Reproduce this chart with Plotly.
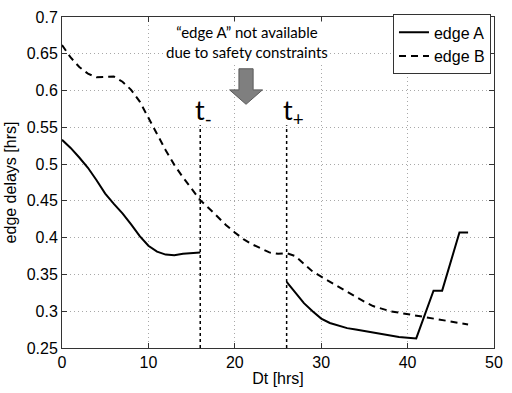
import plotly.graph_objects as go

# ---- data ----
dt = list(range(0, 48))

edge_b = [0.662, 0.645, 0.632, 0.623, 0.618, 0.619, 0.619, 0.612, 0.601, 0.585,
          0.562, 0.541, 0.519, 0.499, 0.482, 0.466, 0.451, 0.440, 0.428, 0.417,
          0.407, 0.398, 0.391, 0.385, 0.380, 0.378, 0.379, 0.375, 0.365, 0.354,
          0.347, 0.340, 0.333, 0.326, 0.319, 0.313, 0.307, 0.303, 0.300, 0.298,
          0.296, 0.294, 0.292, 0.290, 0.289, 0.286, 0.284, 0.282]

edge_a_x1 = list(range(0, 17))
edge_a_y1 = [0.533, 0.522, 0.509, 0.495, 0.478, 0.460, 0.446, 0.433, 0.418, 0.402,
             0.389, 0.381, 0.377, 0.376, 0.378, 0.379, 0.380]
edge_a_x2 = [26, 27, 28, 29, 30, 31, 32, 33, 34, 35, 36, 37, 38, 39, 40, 41, 43, 44, 46, 47]
edge_a_y2 = [0.340, 0.326, 0.311, 0.300, 0.290, 0.284, 0.280, 0.277, 0.275, 0.273,
             0.271, 0.268, 0.266, 0.265, 0.264, 0.263, 0.328, 0.328, 0.407, 0.407]

t_minus = 16
t_plus = 26
t_line_top = 0.553

x_ticks = [0, 10, 20, 30, 40, 50]
y_ticks = [0.25, 0.3, 0.35, 0.4, 0.45, 0.5, 0.55, 0.6, 0.65, 0.7]
y_tick_labels = ["0.25", "0.3", "0.35", "0.4", "0.45", "0.5", "0.55", "0.6", "0.65", "0.7"]

edge_a_x = edge_a_x1 + [None] + edge_a_x2
edge_a_y = edge_a_y1 + [None] + edge_a_y2

fig = go.Figure()

for tv in (t_minus, t_plus):
    fig.add_trace(go.Scatter(x=[tv, tv], y=[0.25, t_line_top], mode="lines",
                             line=dict(color="black", width=1.5, dash="dot"),
                             showlegend=False, hoverinfo="skip"))

fig.add_trace(go.Scatter(x=edge_a_x, y=edge_a_y, mode="lines", name="edge A",
                         line=dict(color="black", width=2), connectgaps=False))
fig.add_trace(go.Scatter(x=dt, y=edge_b, mode="lines", name="edge B",
                         line=dict(color="black", width=2, dash="7px,5px")))

axis_common = dict(
    showline=True, linecolor="#333333", linewidth=1, mirror="allticks",
    ticks="inside", ticklen=5, tickcolor="#333333",
    showgrid=True, gridcolor="#a8a8a8", griddash="1px,3px", gridwidth=1,
    zeroline=False,
    tickfont=dict(family="Liberation Sans", size=16, color="black"),
)

fig.update_xaxes(range=[0, 50], tickvals=x_ticks,
                 title=dict(text="Dt [hrs]", standoff=2,
                            font=dict(family="Liberation Sans", size=16, color="black")),
                 **axis_common)
fig.update_yaxes(range=[0.25, 0.7], tickvals=y_ticks, ticktext=y_tick_labels,
                 title=dict(text="edge delays [hrs]", standoff=6,
                            font=dict(family="Liberation Sans", size=16, color="black")),
                 **axis_common)

# arrow (decoration)
ax = 21.3
bw, hw = 0.82, 1.9
y0, y1, ytip = 0.6296, 0.6009, 0.5813
arrow_path = (f"M {ax-bw},{y0} L {ax+bw},{y0} L {ax+bw},{y1} L {ax+hw},{y1} "
              f"L {ax},{ytip} L {ax-hw},{y1} L {ax-bw},{y1} Z")
fig.add_shape(type="path", path=arrow_path, xref="x", yref="y",
              fillcolor="#7f7f7f", line=dict(color="#5a5a5a", width=1))

fig.add_annotation(x=21.4, y=0.925, xref="x", yref="paper",
                   text="“edge A” not available<br>due to safety constraints",
                   showarrow=False, xanchor="center", yanchor="middle",
                   font=dict(family="Lato", size=15, color="black"),
                   bgcolor="white")

fig.add_annotation(x=15.2, y=0.572, xref="x", yref="y", text="t<sub>-</sub>",
                   showarrow=False, xanchor="left", yanchor="middle",
                   font=dict(family="Lato", size=27, color="black"))
fig.add_annotation(x=25.3, y=0.572, xref="x", yref="y", text="t<sub>+</sub>",
                   showarrow=False, xanchor="left", yanchor="middle",
                   font=dict(family="Lato", size=27, color="black"))

fig.update_layout(
    width=512, height=393,
    margin=dict(l=58, r=17, t=9, b=39),
    paper_bgcolor="white", plot_bgcolor="white",
    legend=dict(x=0.993, y=1.008, xanchor="right", yanchor="top",
                bgcolor="white", bordercolor="#333333", borderwidth=1,
                font=dict(family="Liberation Sans", size=16, color="black"),
                itemwidth=30, tracegroupgap=0),
)

fig.write_html("out.html")
